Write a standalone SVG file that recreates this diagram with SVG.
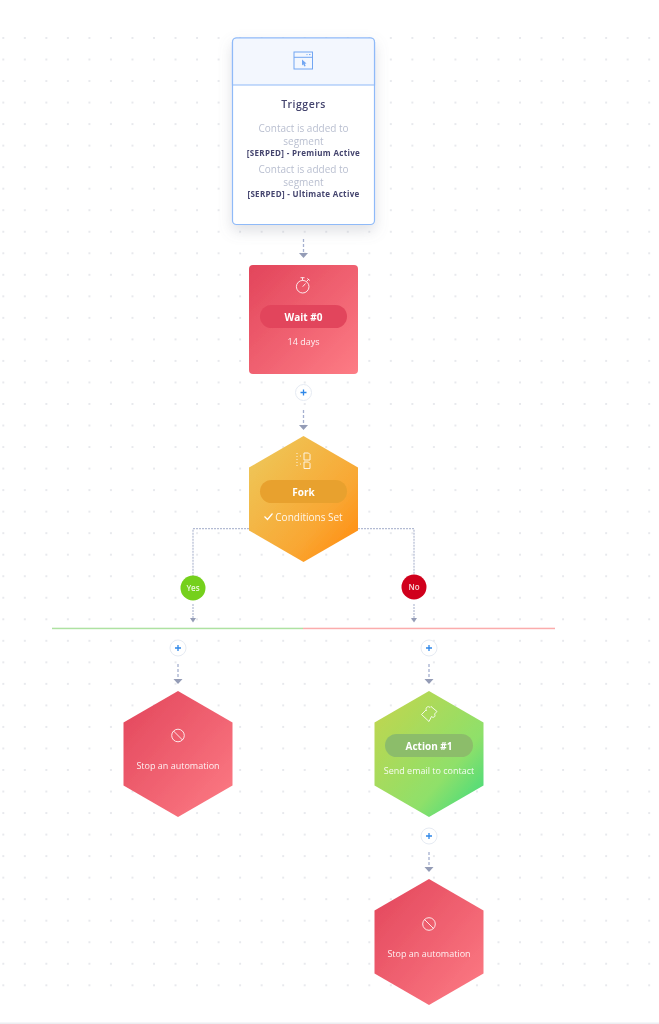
<svg xmlns="http://www.w3.org/2000/svg" width="659" height="1024" viewBox="0 0 659 1024">
<style>
text{font-family:"Open Sans","Noto Sans",sans-serif;text-anchor:middle}
.w{fill:#fff;font-size:9px;opacity:.9}
.b{fill:#fff;font-size:10px;font-weight:700}
.c{fill:#b9bfd0;font-size:10px}
.s{fill:#44446e;font-size:8px;font-weight:700;letter-spacing:.32px}
.i{fill:none;stroke:#fff;stroke-width:1;opacity:.85}
.d{fill:none;stroke:#a5b0cf;stroke-width:1.300;stroke-dasharray:3 2}
.f{fill:none;stroke:#b3bbd3;stroke-width:1.200;stroke-dasharray:2 1}
.p{fill:#fff;stroke:#e6ebf3;stroke-width:1}
.m{stroke:#2f87e8;stroke-width:1.300}
</style>
<defs>
<pattern id="dots" width="21.53" height="21.53" patternUnits="userSpaceOnUse" x="2.3" y="15.47"><circle cx="1" cy="1" r="1" fill="#e1e3e8"/></pattern>
<linearGradient id="red" x1="0" y1="0" x2="1" y2="1"><stop offset="0" stop-color="#e2455b"/><stop offset="1" stop-color="#fd7c85"/></linearGradient>
<linearGradient id="org" x1="0.1" y1="0.1" x2="0.9" y2="0.9"><stop offset="0" stop-color="#eec557"/><stop offset=".7" stop-color="#f9a733"/><stop offset="1" stop-color="#ff9015"/></linearGradient>
<linearGradient id="grn" x1="0.1" y1="0.1" x2="0.9" y2="0.9"><stop offset="0" stop-color="#bdd650"/><stop offset=".7" stop-color="#8fe06a"/><stop offset="1" stop-color="#4fdc79"/></linearGradient>
<filter id="sh" x="-20%" y="-20%" width="140%" height="140%"><feDropShadow dx="0" dy="6" stdDeviation="7" flood-color="#7a8090" flood-opacity=".24"/></filter>
<filter id="soft" x="0" y="0" width="100%" height="100%"><feGaussianBlur stdDeviation=".3"/></filter>
<marker id="a" markerUnits="userSpaceOnUse" markerWidth="10" markerHeight="6" refX="4.500" refY="0" orient="0" overflow="visible"><path d="M0 0H9L4.500 5Z" fill="#949cb6"/></marker>
<marker id="a2" markerUnits="userSpaceOnUse" markerWidth="7" markerHeight="5" refX="3" refY="0" orient="0" overflow="visible"><path d="M0 0H6L3 4.500Z" fill="#949cb6"/></marker>
</defs>
<g filter="url(#soft)">
<rect width="659" height="1024" fill="#fff"/>
<rect x="0" y="30" width="659" height="960" fill="url(#dots)"/>
<rect x="0" y="1022.500" width="659" height="1.500" fill="#eceef1"/>

<g id="connectors">
<path class="d" d="M303.500 239V253" marker-end="url(#a)"/>
<path class="d" d="M303.500 410V425" marker-end="url(#a)"/>
<path class="f" d="M249 528.700H193V576"/>
<path class="f" d="M358 528.700H414V575"/>
<path class="f" d="M193 604V618" marker-end="url(#a2)"/>
<path class="f" d="M414 604V618" marker-end="url(#a2)"/>
<path class="d" d="M178 664V679" marker-end="url(#a)"/>
<path class="d" d="M429 664V679" marker-end="url(#a)"/>
<path class="d" d="M429 852V867" marker-end="url(#a)"/>
<rect x="52" y="627.700" width="251" height="1.500" fill="#aee2a2"/>
<rect x="303" y="627.700" width="252" height="1.500" fill="#fbacac"/>
</g>

<g id="triggers">
<rect x="232.500" y="38" width="142" height="186.500" rx="4" fill="#fff" stroke="#8fbaf8" stroke-width="1.200" filter="url(#sh)"/>
<path d="M232.500 85V42a4 4 0 0 1 4-4H370.500a4 4 0 0 1 4 4V85Z" fill="#f3f7fe" stroke="#8fbaf8" stroke-width="1.200"/>
<g fill="none" stroke="#72a6f2" stroke-width="1"><rect x="294" y="52" width="18.500" height="17"/><path d="M294 57.300H312.500"/><path d="M306.500 54.600H307.500M309 54.600H310.500"/></g>
<path d="M302 59.500L306.500 63.500 304.700 63.800 305.700 66 304.300 66.500 303.300 64.300 302 65.500Z" fill="#72a6f2"/>
<text x="303.500" y="108" fill="#44446e" style="font-size:10.500px;font-weight:600;letter-spacing:.5px">Triggers</text>
<text class="c" x="303.500" y="132">Contact is added to</text>
<text class="c" x="303.500" y="145">segment</text>
<text class="s" x="303.500" y="156">[SERPED] - Premium Active</text>
<text class="c" x="303.500" y="173">Contact is added to</text>
<text class="c" x="303.500" y="186">segment</text>
<text class="s" x="303.500" y="197">[SERPED] - Ultimate Active</text>
</g>

<g id="wait">
<rect x="249" y="265" width="109" height="109" rx="4" fill="url(#red)"/>
<circle cx="302.700" cy="286.700" r="6.300" class="i"/><path class="i" d="M300.500 277.700H304.500M302.500 277.700V280.300M306.500 281.500L309 279M307.300 278.500L309.800 280.500M302.700 286.700L305.500 283.500"/>
<rect x="260" y="305" width="87" height="23" rx="11.500" fill="#e2455b"/>
<text class="b" x="303.500" y="320.500">Wait #0</text>
<text class="w" x="303.500" y="345">14 days</text>
</g>
<g id="add-1"><circle class="p" cx="303.500" cy="392.500" r="8"/><path class="m" d="M300.500 392.500H306.500M303.500 389.500V395.500"/></g>

<g id="fork">
<path d="M303.500 436L358 467.500V530.500L303.500 562 249 530.500V467.500Z" fill="url(#org)"/>
<g class="i"><path d="M304 453H308.500L310 454.500V460H304ZM304 462H308.500L310 463.500V468.500H304Z"/><path d="M297 453V468M300 456H303M300 464H303" stroke-dasharray="1 2"/></g>
<rect x="260" y="480" width="87" height="23" rx="11.500" fill="#e8a12e"/>
<text class="b" x="303.500" y="495.500">Fork</text>
<path d="M264.500 516.500L267.500 519.500 272.500 513.500" fill="none" stroke="#fff" stroke-width="1.200"/>
<text class="w" x="309" y="520.500" style="font-size:10px">Conditions Set</text>
</g>

<g id="yes"><circle cx="193" cy="588" r="12.500" fill="#74d01b"/><text x="193" y="591" fill="#fff" style="font-size:8px;font-weight:600" opacity=".85">Yes</text></g>
<g id="no"><circle cx="414" cy="587" r="12.500" fill="#d0021b"/><text x="414" y="590" fill="#fff" style="font-size:8px;font-weight:600" opacity=".85">No</text></g>

<g id="add-2"><circle class="p" cx="178" cy="648" r="8"/><path class="m" d="M175 648H181M178 645V651"/></g>
<g id="add-3"><circle class="p" cx="429" cy="648" r="8"/><path class="m" d="M426 648H432M429 645V651"/></g>

<g id="stop-1">
<path d="M178 691L232.500 722.500V785.500L178 817 123.500 785.500V722.500Z" fill="url(#red)"/>
<circle class="i" cx="178" cy="735.500" r="6.300"/><path class="i" d="M173.500 731L182.500 740"/>
<text class="w" x="178" y="769">Stop an automation</text>
</g>

<g id="action">
<path d="M429 691L483.500 722.500V785.500L429 817 374.500 785.500V722.500Z" fill="url(#grn)"/>
<path class="i" d="M421.500 714.500L426 710 426.500 710.500C425 707.500 428 705.500 430 707.500L431 706.500 437 711.500 434.500 714C436 716.500 433.500 718.500 431.500 716.500L429 721.500Z"/>
<rect x="385" y="734" width="88" height="23" rx="11.500" fill="#8cbd6b"/>
<text class="b" x="429" y="749.500">Action #1</text>
<text class="w" x="429" y="774">Send email to contact</text>
</g>
<g id="add-4"><circle class="p" cx="429" cy="836" r="8"/><path class="m" d="M426 836H432M429 833V839"/></g>

<g id="stop-2">
<path d="M429 879L483.500 910.500V973.500L429 1005 374.500 973.500V910.500Z" fill="url(#red)"/>
<circle class="i" cx="429" cy="924" r="6.300"/><path class="i" d="M424.500 919.500L433.500 928.500"/>
<text class="w" x="429" y="957">Stop an automation</text>
</g>
</g>
</svg>
